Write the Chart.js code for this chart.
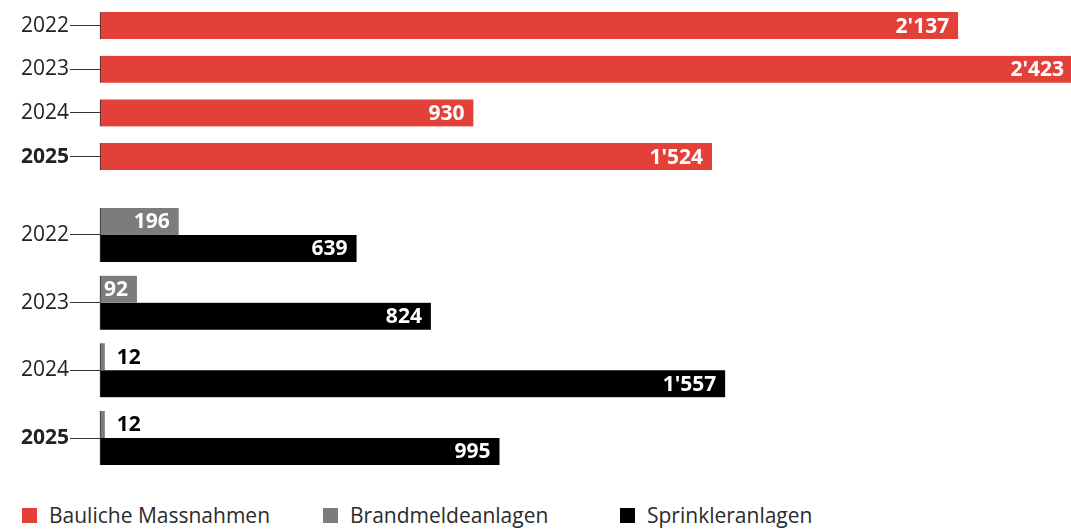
<!DOCTYPE html>
<html>
<head>
<meta charset="utf-8">
<script src="https://cdn.jsdelivr.net/npm/chart.js@4"></script>
<style>
  html,body{margin:0;padding:0;background:#fff;}
  #wrap{position:relative;width:1071px;height:529px;overflow:hidden;font-family:"Open Sans",sans-serif;}
  canvas{position:absolute;left:0;}
  .lg{position:absolute;top:504px;height:22px;display:flex;align-items:center;font-size:21px;color:#2b2b2b;white-space:nowrap;}
  .lg i{display:inline-block;width:15px;height:15px;margin-right:12px;}
</style>
</head>
<body>
<div id="wrap">
  <canvas id="c1" width="1071" height="179" style="top:0"></canvas>
  <canvas id="c2" width="1071" height="290" style="top:190px"></canvas>
  <div id="legend"></div>
</div>
<script>
// ---- data ----
const years = ['2022', '2023', '2024', '2025'];
const bauliche = [2137, 2423, 930, 1524];
const brandmelde = [196, 92, 12, 12];
const sprinkler = [639, 824, 1557, 995];
const seriesNames = ['Bauliche Massnahmen', 'Brandmeldeanlagen', 'Sprinkleranlagen'];
const seriesColors = ['#e3403a', '#7b7c7c', '#000000'];
const xMax = 2418; // visible axis end (the largest bar runs slightly past the edge)

const FONT = '"Open Sans", sans-serif';

function fmt(v) {
  return String(v).replace(/\B(?=(\d{3})+(?!\d))/g, "'");
}

const valueLabels = {
  id: 'valueLabels',
  afterDatasetsDraw(chart) {
    const ctx = chart.ctx;
    ctx.save();
    ctx.font = 'bold 21px ' + FONT;
    ctx.textBaseline = 'middle';
    chart.data.datasets.forEach((ds, di) => {
      const meta = chart.getDatasetMeta(di);
      meta.data.forEach((bar, i) => {
        const txt = fmt(ds.data[i]);
        const w = ctx.measureText(txt).width;
        const bw = bar.x - bar.base;
        if (w + 12 <= bw) {
          ctx.fillStyle = '#ffffff';
          ctx.textAlign = 'right';
          ctx.fillText(txt, bar.x - 9, bar.y + 1);
        } else {
          ctx.fillStyle = '#000000';
          ctx.textAlign = 'left';
          ctx.fillText(txt, bar.x + 12, bar.y + 1);
        }
      });
    });
    ctx.restore();
  }
};

function makeOptions(padTop, padBottom) {
  return {
    responsive: false,
    animation: false,
    devicePixelRatio: 1,
    indexAxis: 'y',
    layout: { padding: { top: padTop, bottom: padBottom, left: 0, right: 0 } },
    plugins: { legend: { display: false }, tooltip: { enabled: false } },
    scales: {
      x: { type: 'linear', min: 0, max: xMax, display: false, grid: { display: false } },
      y: {
        type: 'category',
        afterFit(scale) { scale.width = 100; scale.paddingTop = 0; scale.paddingBottom = 0; },
        border: { display: false },
        grid: { display: true, offset: false, drawOnChartArea: false, drawTicks: true, tickLength: 30, color: '#333333', lineWidth: 1 },
        ticks: {
          padding: 1,
          color: '#222222',
          font: (c) => ({ family: FONT, size: 21, weight: c.index === 3 ? 'bold' : 'normal' })
        }
      }
    }
  };
}

const barStyle = {
  barThickness: 27,
  clip: false,
  borderSkipped: false,
  borderWidth: { left: 1, right: 0, top: 0, bottom: 0 },
  borderColor: '#333333'
};

new Chart(document.getElementById('c1'), {
  type: 'bar',
  data: {
    labels: years,
    datasets: [Object.assign({ label: seriesNames[0], data: bauliche, backgroundColor: seriesColors[0] }, barStyle)]
  },
  options: makeOptions(3.7, 0.6),
  plugins: [valueLabels]
});

new Chart(document.getElementById('c2'), {
  type: 'bar',
  data: {
    labels: years,
    datasets: [
      Object.assign({ label: seriesNames[1], data: brandmelde, backgroundColor: seriesColors[1] }, barStyle),
      Object.assign({ label: seriesNames[2], data: sprinkler, backgroundColor: seriesColors[2] }, barStyle)
    ]
  },
  options: makeOptions(11.15, 8.15),
  plugins: [valueLabels]
});

// legend
const legendX = [22, 323, 620];
const lg = document.getElementById('legend');
seriesNames.forEach((n, i) => {
  const d = document.createElement('div');
  d.className = 'lg';
  d.style.left = legendX[i] + 'px';
  const sq = document.createElement('i');
  sq.style.background = seriesColors[i];
  d.appendChild(sq);
  d.appendChild(document.createTextNode(n));
  lg.appendChild(d);
});
</script>
</body>
</html>
